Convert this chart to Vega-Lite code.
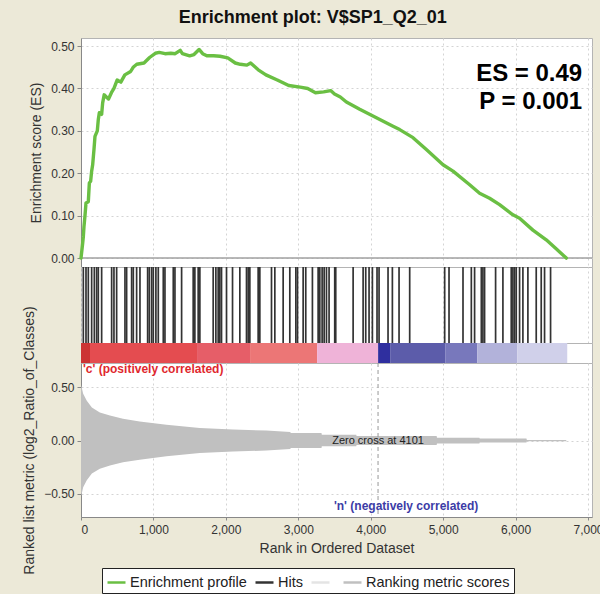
{
  "$schema": "https://vega.github.io/schema/vega-lite/v6.json",
  "background": "#ece9d8",
  "padding": {"left": 22, "top": 8, "right": 8, "bottom": 0},
  "bounds": "flush",
  "title": {"text": "Enrichment plot: V$SP1_Q2_01", "fontSize": 18, "fontWeight": "bold", "color": "#111", "anchor": "middle", "offset": 11, "font": "Liberation Sans"},
  "datasets": {
    "es": [
      {"rank": 0, "es": 0}, {"rank": 23, "es": 0.035}, {"rank": 32, "es": 0.05}, {"rank": 41, "es": 0.074},
      {"rank": 55, "es": 0.1}, {"rank": 69, "es": 0.13}, {"rank": 101, "es": 0.133}, {"rank": 115, "es": 0.177},
      {"rank": 133, "es": 0.181}, {"rank": 147, "es": 0.205}, {"rank": 161, "es": 0.22}, {"rank": 179, "es": 0.256},
      {"rank": 193, "es": 0.287}, {"rank": 225, "es": 0.3}, {"rank": 239, "es": 0.327}, {"rank": 253, "es": 0.343},
      {"rank": 285, "es": 0.339}, {"rank": 299, "es": 0.366}, {"rank": 320, "es": 0.385}, {"rank": 350, "es": 0.38},
      {"rank": 380, "es": 0.375}, {"rank": 420, "es": 0.39}, {"rank": 455, "es": 0.4}, {"rank": 500, "es": 0.42},
      {"rank": 550, "es": 0.415}, {"rank": 605, "es": 0.432}, {"rank": 685, "es": 0.44}, {"rank": 720, "es": 0.45},
      {"rank": 770, "es": 0.457}, {"rank": 870, "es": 0.46}, {"rank": 947, "es": 0.473}, {"rank": 1026, "es": 0.483},
      {"rank": 1080, "es": 0.485}, {"rank": 1160, "es": 0.482}, {"rank": 1240, "es": 0.483}, {"rank": 1300, "es": 0.482},
      {"rank": 1370, "es": 0.49}, {"rank": 1400, "es": 0.482}, {"rank": 1500, "es": 0.477}, {"rank": 1560, "es": 0.48},
      {"rank": 1630, "es": 0.492}, {"rank": 1680, "es": 0.482}, {"rank": 1737, "es": 0.477}, {"rank": 1830, "es": 0.477},
      {"rank": 1920, "es": 0.476}, {"rank": 2026, "es": 0.472}, {"rank": 2130, "es": 0.46}, {"rank": 2200, "es": 0.457},
      {"rank": 2290, "es": 0.455}, {"rank": 2342, "es": 0.46}, {"rank": 2447, "es": 0.444}, {"rank": 2553, "es": 0.432},
      {"rank": 2710, "es": 0.42}, {"rank": 2868, "es": 0.407}, {"rank": 3026, "es": 0.403}, {"rank": 3130, "es": 0.4},
      {"rank": 3237, "es": 0.39}, {"rank": 3350, "es": 0.392}, {"rank": 3447, "es": 0.395}, {"rank": 3500, "es": 0.387},
      {"rank": 3580, "es": 0.38}, {"rank": 3664, "es": 0.368}, {"rank": 3848, "es": 0.351}, {"rank": 4078, "es": 0.331},
      {"rank": 4308, "es": 0.311}, {"rank": 4400, "es": 0.303}, {"rank": 4584, "es": 0.284}, {"rank": 4768, "es": 0.256},
      {"rank": 4998, "es": 0.22}, {"rank": 5136, "es": 0.205}, {"rank": 5366, "es": 0.173}, {"rank": 5503, "es": 0.153},
      {"rank": 5641, "es": 0.141}, {"rank": 5779, "es": 0.126}, {"rank": 5963, "es": 0.102}, {"rank": 6055, "es": 0.094},
      {"rank": 6239, "es": 0.066}, {"rank": 6423, "es": 0.043}, {"rank": 6560, "es": 0.022}, {"rank": 6700, "es": 0}
    ],
    "hits": [
      {"rank": 32}, {"rank": 69}, {"rank": 101}, {"rank": 147}, {"rank": 184}, {"rank": 216}, {"rank": 239}, {"rank": 285},
      {"rank": 423}, {"rank": 455}, {"rank": 492}, {"rank": 607}, {"rank": 630}, {"rank": 699}, {"rank": 722}, {"rank": 768},
      {"rank": 814}, {"rank": 920}, {"rank": 943}, {"rank": 975}, {"rank": 998}, {"rank": 1034}, {"rank": 1067}, {"rank": 1136},
      {"rank": 1159}, {"rank": 1274}, {"rank": 1297}, {"rank": 1389}, {"rank": 1549}, {"rank": 1572}, {"rank": 1618}, {"rank": 1641},
      {"rank": 1825}, {"rank": 1862}, {"rank": 1894}, {"rank": 1917}, {"rank": 1940}, {"rank": 2009}, {"rank": 2092}, {"rank": 2193},
      {"rank": 2285}, {"rank": 2308}, {"rank": 2331}, {"rank": 2446}, {"rank": 2469}, {"rank": 2630}, {"rank": 2676}, {"rank": 2791},
      {"rank": 2883}, {"rank": 2966}, {"rank": 2989}, {"rank": 3067}, {"rank": 3103}, {"rank": 3195}, {"rank": 3274}, {"rank": 3297},
      {"rank": 3329}, {"rank": 3357}, {"rank": 3389}, {"rank": 3425}, {"rank": 3503}, {"rank": 3517}, {"rank": 3757}, {"rank": 3895},
      {"rank": 3931}, {"rank": 3977}, {"rank": 4023}, {"rank": 4087}, {"rank": 4115}, {"rank": 4239}, {"rank": 4299}, {"rank": 4391},
      {"rank": 4538}, {"rank": 5021}, {"rank": 5081}, {"rank": 5274}, {"rank": 5389}, {"rank": 5434}, {"rank": 5527}, {"rank": 5549},
      {"rank": 5572}, {"rank": 5724}, {"rank": 5825}, {"rank": 5940}, {"rank": 5963}, {"rank": 5986}, {"rank": 6009}, {"rank": 6055},
      {"rank": 6101}, {"rank": 6170}, {"rank": 6285}, {"rank": 6354}, {"rank": 6400}, {"rank": 6483}
    ],
    "bar": [
      {"start": 0, "end": 124, "band": "r0"},
      {"start": 124, "end": 1602, "band": "r1"},
      {"start": 1602, "end": 2334, "band": "r2"},
      {"start": 2334, "end": 3260, "band": "r3"},
      {"start": 3260, "end": 4102, "band": "p"},
      {"start": 4102, "end": 4268, "band": "b0"},
      {"start": 4268, "end": 5028, "band": "b1"},
      {"start": 5028, "end": 5470, "band": "b2"},
      {"start": 5470, "end": 6022, "band": "b3"},
      {"start": 6022, "end": 6713, "band": "b4"}
    ],
    "metric": [
      {"rank": 0, "hi": 0.52, "lo": -0.52}, {"rank": 10, "hi": 0.5, "lo": -0.5}, {"rank": 30, "hi": 0.44, "lo": -0.44},
      {"rank": 80, "hi": 0.375, "lo": -0.375}, {"rank": 150, "hi": 0.31, "lo": -0.31}, {"rank": 260, "hi": 0.265, "lo": -0.265},
      {"rank": 400, "hi": 0.235, "lo": -0.235}, {"rank": 580, "hi": 0.205, "lo": -0.205}, {"rank": 810, "hi": 0.18, "lo": -0.18},
      {"rank": 1180, "hi": 0.148, "lo": -0.148}, {"rank": 1640, "hi": 0.118, "lo": -0.118}, {"rank": 2100, "hi": 0.104, "lo": -0.104},
      {"rank": 2560, "hi": 0.094, "lo": -0.094}, {"rank": 2890, "hi": 0.08, "lo": -0.08}, {"rank": 2895, "hi": 0.07, "lo": -0.07},
      {"rank": 3320, "hi": 0.07, "lo": -0.07}, {"rank": 3325, "hi": 0.055, "lo": -0.055}, {"rank": 3800, "hi": 0.055, "lo": -0.055},
      {"rank": 3805, "hi": 0.043, "lo": -0.043}, {"rank": 4910, "hi": 0.043, "lo": -0.043}, {"rank": 4915, "hi": 0.027, "lo": -0.027},
      {"rank": 5500, "hi": 0.027, "lo": -0.027}, {"rank": 5505, "hi": 0.018, "lo": -0.018}, {"rank": 6150, "hi": 0.018, "lo": -0.018},
      {"rank": 6155, "hi": 0.006, "lo": -0.006}, {"rank": 6700, "hi": 0.006, "lo": -0.006}
    ]
  },
  "spacing": 0,
  "resolve": {"scale": {"x": "independent", "y": "independent"}},
  "vconcat": [
    {
      "width": 511,
      "height": 229,
      "layer": [
        {
          "data": {"values": [{}]},
          "mark": {"type": "rule", "color": "#a0a0a0", "strokeWidth": 1.5},
          "encoding": {"y": {"datum": 0}}
        },
        {
          "data": {"name": "es"},
          "mark": {"type": "line", "strokeWidth": 3.4, "strokeJoin": "round", "strokeCap": "round"},
          "encoding": {
            "x": {"field": "rank", "type": "quantitative", "scale": {"domain": [0, 7055], "nice": false, "zero": false},
                  "axis": {"values": [0, 1000, 2000, 3000, 4000, 5000, 6000, 7000], "labels": false, "ticks": false, "domain": false, "title": null, "grid": true}},
            "y": {"field": "es", "type": "quantitative", "scale": {"domain": [-0.021, 0.519], "nice": false, "zero": false},
                  "axis": {"values": [0, 0.05, 0.1, 0.15, 0.2, 0.25, 0.3, 0.35, 0.4, 0.45, 0.5], "format": ".2f", "title": "Enrichment score (ES)", "titlePadding": 7, "grid": true}},
            "color": {
              "datum": "Enrichment profile",
              "scale": {"domain": ["Enrichment profile", "Hits", " ", "Ranking metric scores"], "range": ["#6abf43", "#333333", "#e4e4e4", "#c0c0c0"]},
              "legend": {
                "orient": "none", "legendX": 21, "legendY": 530, "direction": "horizontal", "columns": 4,
                "title": null, "fillColor": "white", "strokeColor": "#222", "padding": 4,
                "symbolType": "stroke", "symbolSize": 324, "symbolStrokeWidth": 2.5,
                "labelFontSize": 14.5, "labelColor": "#222", "labelFont": "Liberation Sans", "labelOffset": 3, "columnPadding": 3
              }
            }
          }
        },
        {
          "data": {"values": [{}]},
          "mark": {"type": "text", "text": "ES = 0.49", "fontSize": 24, "fontWeight": "bold", "align": "right", "baseline": "middle", "color": "#000"},
          "encoding": {"x": {"datum": 6920}, "y": {"datum": 0.433}}
        },
        {
          "data": {"values": [{}]},
          "mark": {"type": "text", "text": "P = 0.001", "fontSize": 24, "fontWeight": "bold", "align": "right", "baseline": "middle", "color": "#000"},
          "encoding": {"x": {"datum": 6920}, "y": {"datum": 0.367}}
        }
      ]
    },
    {
      "width": 511,
      "height": 76,
      "data": {"name": "hits"},
      "mark": {"type": "rule", "strokeWidth": 1.7},
      "encoding": {
        "x": {"field": "rank", "type": "quantitative", "scale": {"domain": [0, 7055], "nice": false, "zero": false},
              "axis": {"values": [0, 1000, 2000, 3000, 4000, 5000, 6000, 7000], "labels": false, "ticks": false, "domain": false, "title": null, "grid": true}},
        "color": {"datum": "Hits"}
      }
    },
    {
      "width": 511,
      "height": 20,
      "data": {"name": "bar"},
      "mark": {"type": "rect"},
      "encoding": {
        "x": {"field": "start", "type": "quantitative", "scale": {"domain": [0, 7055], "nice": false, "zero": false}, "axis": null},
        "x2": {"field": "end"},
        "fill": {"field": "band", "type": "nominal", "legend": null,
                 "scale": {"domain": ["r0", "r1", "r2", "r3", "p", "b0", "b1", "b2", "b3", "b4"],
                           "range": ["#cc3434", "#e44c50", "#e65e68", "#ec7676", "#efb3d8", "#2f2f9f", "#5c5caa", "#7878bc", "#b2b2da", "#d0d0ea"]}}
      }
    },
    {
      "width": 511,
      "height": 154,
      "layer": [
        {
          "data": {"name": "metric"},
          "mark": {"type": "area"},
          "encoding": {
            "x": {"field": "rank", "type": "quantitative", "scale": {"domain": [0, 7055], "nice": false, "zero": false},
                  "axis": {"values": [0, 1000, 2000, 3000, 4000, 5000, 6000, 7000], "format": ",d", "title": "Rank in Ordered Dataset", "grid": true, "tickSize": 3, "labelPadding": 4, "titlePadding": 6}},
            "y": {"field": "hi", "type": "quantitative", "scale": {"domain": [-0.72, 0.73], "nice": false, "zero": false},
                  "axis": {"values": [-0.5, -0.25, 0, 0.25, 0.5], "format": ".2f", "title": "Ranked list metric (log2_Ratio_of_Classes)", "titlePadding": 7, "grid": true}},
            "y2": {"field": "lo"},
            "color": {"datum": "Ranking metric scores"}
          }
        },
        {
          "data": {"values": [{}]},
          "mark": {"type": "rule", "color": "#999", "strokeDash": [4, 3], "strokeWidth": 1},
          "encoding": {"x": {"datum": 4101}}
        },
        {
          "data": {"values": [{}]},
          "mark": {"type": "text", "text": "Zero cross at 4101", "fontSize": 11, "color": "#222", "align": "center", "baseline": "middle"},
          "encoding": {"x": {"datum": 4101}, "y": {"datum": 0}}
        },
        {
          "data": {"values": [{}]},
          "mark": {"type": "text", "text": "'c' (positively correlated)", "fontSize": 12, "fontWeight": "bold", "color": "#e0282e", "align": "left", "baseline": "middle", "dx": 2},
          "encoding": {"x": {"datum": 0}, "y": {"datum": 0.672}}
        },
        {
          "data": {"values": [{}]},
          "mark": {"type": "text", "text": "'n' (negatively correlated)", "fontSize": 12, "fontWeight": "bold", "color": "#3c3ca6", "align": "center", "baseline": "middle"},
          "encoding": {"x": {"datum": 4489}, "y": {"datum": -0.62}}
        }
      ]
    }
  ],
  "config": {
    "font": "Liberation Sans",
    "view": {"fill": "white", "stroke": "#b4b4b4"},
    "axis": {
      "labelFont": "Liberation Sans", "labelFontSize": 12, "labelColor": "#333",
      "titleFont": "Liberation Sans", "titleFontSize": 14, "titleFontWeight": "normal", "titleColor": "#333",
      "domainColor": "#888", "tickColor": "#888", "tickSize": 4, "labelPadding": 3,
      "gridColor": "#d4d4d4", "gridDash": [2, 3], "gridWidth": 1
    }
  }
}
